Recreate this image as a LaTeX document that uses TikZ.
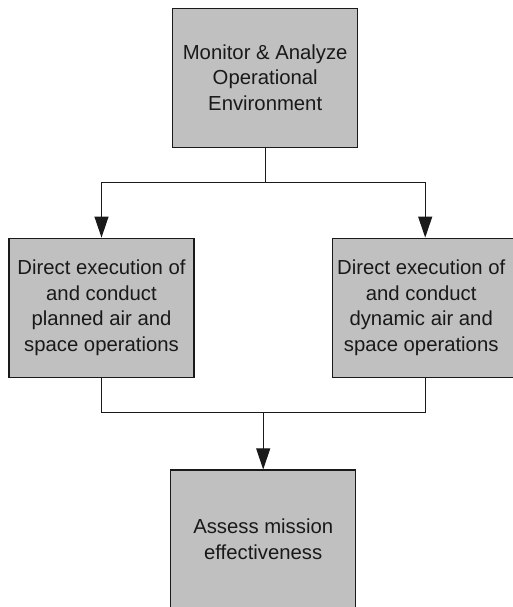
\documentclass[tikz,border=0pt]{standalone}
\usepackage{fontspec}
\setmainfont{Liberation Sans}
\usetikzlibrary{arrows.meta}
\definecolor{boxgray}{HTML}{C0C0C0}
\definecolor{linecol}{HTML}{1A1A1A}
\tikzset{
  procbox/.style={draw=linecol, line width=1.2pt, fill=boxgray, minimum width=185pt, minimum height=139pt, inner sep=0pt, align=center, font=\fontsize{20.3}{25.7}\selectfont, text=black!90},
  conn/.style={draw=linecol, line width=1.1pt},
  arr/.style={conn, -{Triangle[length=21pt,width=14pt]}}
}
\begin{document}
\begin{tikzpicture}[x=1pt,y=-1pt]
\useasboundingbox (0,0) rectangle (513,607);
\clip (0,0) rectangle (513,607);
\fill[white] (0,0) rectangle (513,607);
\node[procbox] (top) at (265.2,77.7) {Monitor \& Analyze\\Operational\\Environment};
\node[procbox] (left) at (101.5,307.7) {Direct execution of\\and conduct\\planned air and\\space operations};
\node[procbox] (right) at (425.2,307.7) {\hspace*{-8pt}Direct execution of\\\hspace*{-8pt}and conduct\\\hspace*{-8pt}dynamic air and\\\hspace*{-8pt}space operations};
\node[procbox] (bottom) at (263.2,539.5) {Assess mission\\effectiveness};
\coordinate (j1) at (265.2,182.7);
\coordinate (j2) at (263.2,412.5);
\draw[conn] (top.south) -- (j1);
\draw[arr] (j1) -| (left.north);
\draw[arr] (j1) -| (right.north);
\draw[conn] (left.south) -- (left.south |- j2) -| (right.south);
\draw[arr] (j2) -- (bottom.north);
\end{tikzpicture}
\end{document}
